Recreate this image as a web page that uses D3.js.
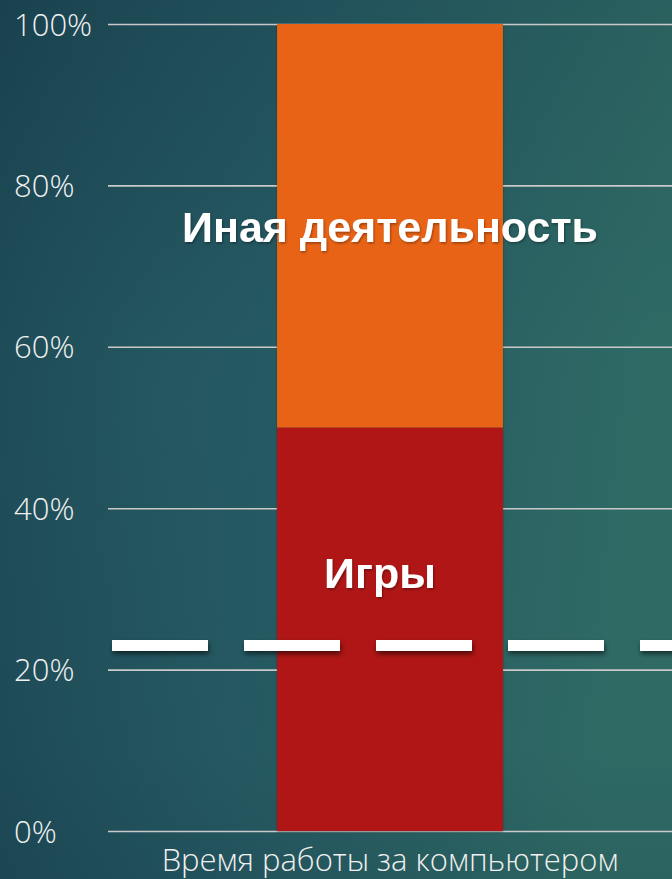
<!DOCTYPE html>
<html><head><meta charset="utf-8">
<script src="https://cdn.jsdelivr.net/npm/d3@7"></script>
<style>
html,body{margin:0;padding:0;background:#1d4b56;}
svg{display:block;}
</style></head>
<body>
<svg id="chart" width="672" height="879"></svg>
<script>
// ---- data ----
const categories = ["Время работы за компьютером"];
const seriesNames = ["Игры", "Иная деятельность"];
const seriesValues = [[50], [50]]; // percent per category
const seriesColors = ["#b01515", "#e86412"];
const yTicks = [0, 20, 40, 60, 80, 100];
const yTickLabels = ["0%", "20%", "40%", "60%", "80%", "100%"];
const referenceValue = 23;

const W = 672, H = 879;
const svg = d3.select("#chart");
const defs = svg.append("defs");

// background gradients
const lg = defs.append("linearGradient").attr("id","bgLin").attr("x1","0").attr("y1","0").attr("x2","1").attr("y2","0.15");
lg.append("stop").attr("offset","0%").attr("stop-color","#1a4351");
lg.append("stop").attr("offset","45%").attr("stop-color","#245660");
lg.append("stop").attr("offset","100%").attr("stop-color","#2f6a65");
const rg = defs.append("radialGradient").attr("id","bgRad").attr("cx","0.25").attr("cy","0.45").attr("r","0.6");
rg.append("stop").attr("offset","0%").attr("stop-color","#2a6469").attr("stop-opacity",0.35);
rg.append("stop").attr("offset","100%").attr("stop-color","#2a6469").attr("stop-opacity",0);
const vg = defs.append("linearGradient").attr("id","bgVert").attr("x1","0").attr("y1","0").attr("x2","0").attr("y2","1");
vg.append("stop").attr("offset","0%").attr("stop-color","#0f2f3c").attr("stop-opacity",0.15);
vg.append("stop").attr("offset","40%").attr("stop-color","#0f2f3c").attr("stop-opacity",0);
vg.append("stop").attr("offset","85%").attr("stop-color","#0f2f3c").attr("stop-opacity",0);
vg.append("stop").attr("offset","100%").attr("stop-color","#0f2f3c").attr("stop-opacity",0.12);

svg.append("rect").attr("width",W).attr("height",H).attr("fill","url(#bgLin)");
svg.append("rect").attr("width",W).attr("height",H).attr("fill","url(#bgRad)");
svg.append("rect").attr("width",W).attr("height",H).attr("fill","url(#bgVert)");

// shadows
const sh = defs.append("filter").attr("id","dashShadow").attr("filterUnits","userSpaceOnUse")
  .attr("x",0).attr("y",0).attr("width",W).attr("height",H);
sh.append("feDropShadow").attr("dx",1).attr("dy",3).attr("stdDeviation",2.5).attr("flood-color","#000").attr("flood-opacity",0.55);
const bs = defs.append("filter").attr("id","barShadow").attr("filterUnits","userSpaceOnUse")
  .attr("x",0).attr("y",0).attr("width",W).attr("height",H);
bs.append("feDropShadow").attr("dx",0).attr("dy",1).attr("stdDeviation",1.2).attr("flood-color","#000").attr("flood-opacity",0.35);
const ts = defs.append("filter").attr("id","txtShadow").attr("filterUnits","userSpaceOnUse")
  .attr("x",0).attr("y",0).attr("width",W).attr("height",H);
ts.append("feDropShadow").attr("dx",1).attr("dy",1.5).attr("stdDeviation",1).attr("flood-color","#000").attr("flood-opacity",0.35);

// scales
const margin = {left:108, right:0, top:24, bottom:48};
const y = d3.scaleLinear().domain([0,100]).range([H - margin.bottom, margin.top]);
const x = d3.scaleBand().domain(categories).range([margin.left, W - margin.right]).padding(0.428);

// gridlines via axis
const gridAxis = d3.axisLeft(y).tickValues(yTicks).tickSize(-(W - margin.left)).tickFormat("");
const grid = svg.append("g").attr("transform",`translate(${margin.left},0)`).call(gridAxis);
grid.select(".domain").remove();
grid.selectAll(".tick line").attr("stroke","#c9c9c9").attr("stroke-width",1.6);

// y labels
const yAxis = d3.axisLeft(y).tickValues(yTicks).tickSize(0).tickFormat((d,i)=>yTickLabels[i]);
const ya = svg.append("g").attr("transform",`translate(14,0)`).call(yAxis);
ya.select(".domain").remove();
ya.selectAll(".tick text")
  .attr("text-anchor","start").attr("x",0).attr("dy","0.36em")
  .attr("fill","#f0f0f0").attr("font-family","'Open Sans', 'Liberation Sans', sans-serif")
  .attr("font-weight",300).attr("font-size","31px");

// stacked bars
const rows = categories.map((c,i)=>{ const o={cat:c}; seriesNames.forEach((s,k)=>o[s]=seriesValues[k][i]); return o; });
const stack = d3.stack().keys(seriesNames)(rows);
const barG = svg.append("g").attr("filter","url(#barShadow)");
stack.forEach((layer,k)=>{
  barG.selectAll(null).data(layer).enter().append("rect")
    .attr("x", d=>x(d.data.cat))
    .attr("width", x.bandwidth())
    .attr("y", d=>y(d[1]))
    .attr("height", d=>y(d[0]) - y(d[1]))
    .attr("fill", seriesColors[k]);
});

// series labels
const labelPos = [32, 74.8];
const labelX = x(categories[0]) + x.bandwidth()/2;
seriesNames.forEach((s,k)=>{
  svg.append("text").attr("x", labelX - (k===0?10:0)).attr("y", y(labelPos[k]))
    .attr("text-anchor","middle").attr("dy","0.35em")
    .attr("fill","#ffffff").attr("font-family","'Liberation Sans', Arial, sans-serif")
    .attr("font-weight","bold").attr("font-size", "43px")
    .attr("filter","url(#txtShadow)")
    .text(s);
});

// reference dashed line
svg.append("line")
  .attr("x1", 112).attr("x2", W + 20)
  .attr("y1", y(referenceValue)).attr("y2", y(referenceValue))
  .attr("stroke","#ffffff").attr("stroke-width",11)
  .attr("stroke-dasharray","96 36")
  .attr("filter","url(#dashShadow)");

// x axis category label
const xAxis = d3.axisBottom(x).tickSize(0);
const xa = svg.append("g").attr("transform",`translate(0,${y(0)})`).call(xAxis);
xa.select(".domain").remove();
xa.selectAll(".tick text").attr("dy","0").attr("y", 40)
  .attr("fill","#f0f0f0").attr("font-family","'Open Sans', 'Liberation Sans', sans-serif")
  .attr("font-weight",300).attr("font-size","31px");
</script>
</body></html>
